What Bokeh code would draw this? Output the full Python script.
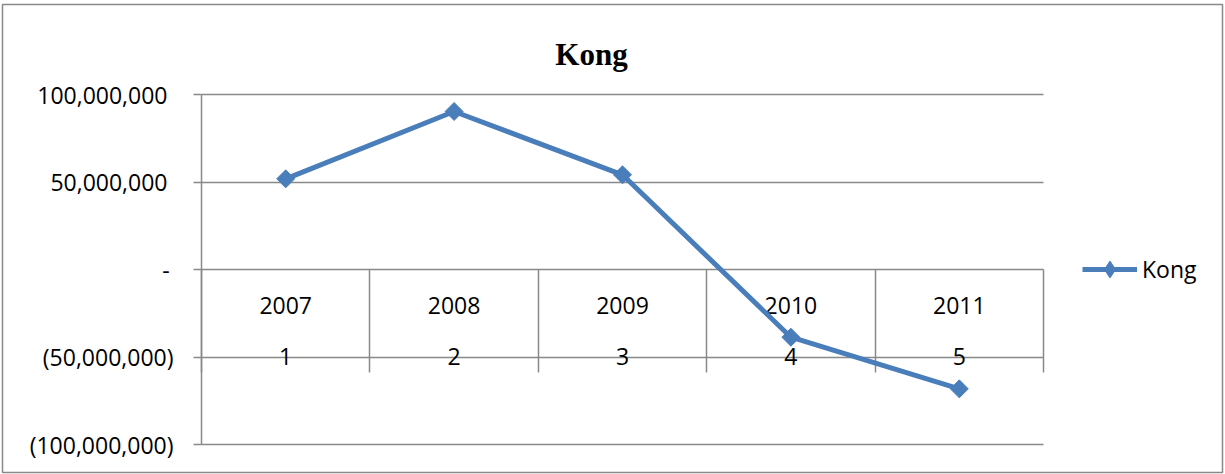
import numpy as np
from bokeh.plotting import figure
from bokeh.models import (Range1d, LinearAxis, FixedTicker, Legend, LegendItem, Label)
from bokeh.embed import file_html
from bokeh.resources import INLINE

# Series data
years = ["2007", "2008", "2009", "2010", "2011"]
positions = [1, 2, 3, 4, 5]
kong = [51_800_000, 90_300_000, 54_100_000, -38_700_000, -68_200_000]

# Value axis ticks (accounting style labels)
y_ticks = [-100_000_000, -50_000_000, 0, 50_000_000, 100_000_000]
y_tick_labels = ["(100,000,000)", "(50,000,000)", "-\u2009",
                 "50,000,000\u00a0", "100,000,000\u00a0"]

GRID = "#898989"
BLUE = "#4a7ebb"
FONT = "Open Sans"
FSIZE = "23px"

# The frame is the whole chart area; the plot area inside it spans
# x 0.5..5.5 and y -100M..100M, with room left for labels and legend.
X_LO, X_HI = 0.5, 5.5
Y_LO, Y_HI = -100_000_000, 100_000_000
px_per_x = 842 / (X_HI - X_LO)
px_per_y = 350 / (Y_HI - Y_LO)
x_range = Range1d(X_LO - 199 / px_per_x, X_HI + 179 / px_per_x)
y_range = Range1d(Y_LO - 28 / px_per_y, Y_HI + 90 / px_per_y)

p = figure(width=1225, height=474, output_backend="svg", toolbar_location=None,
           x_range=x_range, y_range=y_range,
           x_axis_location=None, y_axis_location="left",
           min_border_left=2, min_border_right=3,
           min_border_top=4, min_border_bottom=2)
p.title.visible = False
p.outline_line_color = GRID
p.outline_line_width = 1.5
p.background_fill_color = "white"
p.border_fill_color = "white"
p.xgrid.visible = False

# Value axis, pinned to the left edge of the plot area
ya = p.yaxis[0]
ya.fixed_location = X_LO
ya.bounds = (Y_LO, Y_HI)
ya.ticker = FixedTicker(ticks=y_ticks)
ya.major_label_overrides = dict(zip(y_ticks, y_tick_labels))
ya.minor_tick_line_color = None
ya.major_tick_in = 0
ya.major_tick_out = 8
ya.major_tick_line_color = GRID
ya.major_tick_line_width = 1.5
ya.axis_line_color = GRID
ya.axis_line_width = 1.5
ya.major_label_standoff = 20
ya.major_label_text_font = FONT
ya.major_label_text_font_size = FSIZE
ya.major_label_text_color = "black"

# Horizontal gridlines limited to the plot area
p.ygrid.cross_bounds = (X_LO, X_HI)
p.ygrid.grid_line_color = GRID
p.ygrid.grid_line_width = 1.5

# Category axis drawn at zero: separators, then two rows of labels
bounds = [x - 0.5 for x in positions] + [positions[-1] + 0.5]
sep_axis = LinearAxis(fixed_location=0, ticker=FixedTicker(ticks=bounds),
                      major_label_overrides={b: "" for b in bounds},
                      major_tick_in=0, major_tick_out=103,
                      major_tick_line_color=GRID, major_tick_line_width=1.5,
                      minor_tick_line_color=None, axis_line_color=None)
year_axis = LinearAxis(fixed_location=0, ticker=FixedTicker(ticks=positions),
                       major_label_overrides=dict(zip(positions, years)),
                       major_tick_in=0, major_tick_out=0, major_tick_line_color=None,
                       minor_tick_line_color=None, axis_line_color=None,
                       major_label_standoff=27, major_label_text_font=FONT,
                       major_label_text_font_size=FSIZE, major_label_text_color="black")
idx_axis = LinearAxis(fixed_location=0, ticker=FixedTicker(ticks=positions),
                      major_label_overrides={k: str(k) for k in positions},
                      major_tick_in=0, major_tick_out=0, major_tick_line_color=None,
                      minor_tick_line_color=None, axis_line_color=None,
                      major_label_standoff=78, major_label_text_font=FONT,
                      major_label_text_font_size=FSIZE, major_label_text_color="black")
for ax in (sep_axis, year_axis, idx_axis):
    p.add_layout(ax, "below")

# Series: line with diamond markers (squares turned 45 degrees)
line_r = p.line(positions, kong, line_color=BLUE, line_width=5, level="annotation")
mark_r = p.scatter(positions, kong, marker="square", size=12.7, angle=np.pi / 4,
                   fill_color=BLUE, line_color=BLUE, level="annotation")
# Legend swatch marker (legend glyphs ignore marker angle)
swatch_r = p.scatter(positions, kong, marker="diamond", fill_color=BLUE,
                     line_color=BLUE, visible=False)

legend = Legend(items=[LegendItem(label="Kong", renderers=[line_r, swatch_r])],
                location=(1080, 182), padding=0, margin=0, spacing=0,
                glyph_width=55, glyph_height=42, label_height=30, label_standoff=5,
                border_line_color=None, background_fill_alpha=0,
                label_text_font=FONT, label_text_font_size=FSIZE,
                label_text_color="black")
p.add_layout(legend)

# Chart title
p.add_layout(Label(x=589, y=418, x_units="screen", y_units="screen", text="Kong",
                   text_font="Liberation Serif", text_font_style="bold",
                   text_font_size="31px", text_color="black",
                   text_align="center", text_baseline="alphabetic"))

open("out.html", "w").write(file_html(p, INLINE))
